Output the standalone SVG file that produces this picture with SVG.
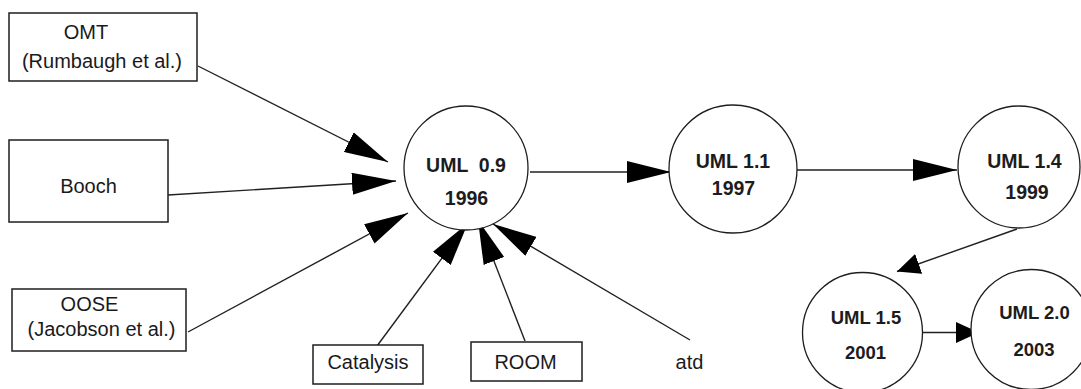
<svg xmlns="http://www.w3.org/2000/svg" width="1081" height="389" viewBox="0 0 1081 389">
  <style>
    .box { fill: #ffffff; stroke: #1e1e1e; stroke-width: 1.5; }
    .ver { fill: #ffffff; stroke: #1e1e1e; stroke-width: 1.3; }
    .lbl { font-family: "Liberation Sans", Arial, sans-serif; font-size: 20px; fill: #1a1a1a; text-anchor: middle; white-space: pre; }
    .vlbl { font-family: "Liberation Sans", Arial, sans-serif; font-size: 19.5px; font-weight: bold; fill: #1c1c1c; text-anchor: middle; white-space: pre; }
    .vsm { font-size: 18.5px; }
    .edge { fill: none; stroke: #202020; stroke-width: 1.4; }
  </style>
  <defs>
    <marker id="headL" markerUnits="userSpaceOnUse" viewBox="0 0 44 22" markerWidth="44" markerHeight="22" refX="44" refY="11" orient="auto">
      <path d="M0,0 L44,11 L0,22 Z" fill="#000000"/>
    </marker>
    <marker id="headS" markerUnits="userSpaceOnUse" viewBox="0 0 23 21" markerWidth="23" markerHeight="21" refX="23" refY="10.5" orient="auto">
      <path d="M0,0 L23,10.5 L0,21 Z" fill="#000000"/>
    </marker>
  </defs>

  <rect width="1081" height="389" fill="#ffffff"/>

  <!-- connectors -->
  <g id="connectors">
    <line class="edge" x1="198" y1="66" x2="388" y2="162" marker-end="url(#headL)"/>
    <line class="edge" x1="168" y1="195" x2="396" y2="181" marker-end="url(#headL)"/>
    <line class="edge" x1="188" y1="332" x2="408" y2="213" marker-end="url(#headL)"/>
    <line class="edge" x1="377" y1="346" x2="468" y2="223" marker-end="url(#headL)"/>
    <line class="edge" x1="525" y1="341" x2="478" y2="220" marker-end="url(#headL)"/>
    <line class="edge" x1="690" y1="340" x2="493" y2="224" marker-end="url(#headL)"/>
    <line class="edge" x1="530" y1="172" x2="671" y2="172" marker-end="url(#headL)"/>
    <line class="edge" x1="797" y1="170" x2="957" y2="170" marker-end="url(#headL)"/>
    <line class="edge" x1="1017" y1="229" x2="897" y2="271.5" marker-end="url(#headS)"/>
    <line class="edge" x1="922" y1="332.5" x2="979" y2="332.5" marker-end="url(#headS)"/>
  </g>

  <!-- source methods -->
  <g id="omt">
    <rect class="box" x="9" y="13" width="188" height="68"/>
    <text class="lbl" x="86" y="39">OMT</text>
    <text class="lbl" x="102" y="67.5">(Rumbaugh et al.)</text>
  </g>
  <g id="booch">
    <rect class="box" x="9" y="140" width="159" height="82"/>
    <text class="lbl" x="88.5" y="193">Booch</text>
  </g>
  <g id="oose">
    <rect class="box" x="12" y="289" width="174" height="62"/>
    <text class="lbl" x="89.5" y="310.5">OOSE</text>
    <text class="lbl" x="101.5" y="336">(Jacobson et al.)</text>
  </g>
  <g id="catalysis">
    <rect class="box" x="313" y="345" width="110" height="39"/>
    <text class="lbl" x="368" y="369">Catalysis</text>
  </g>
  <g id="room">
    <rect class="box" x="471" y="342" width="111" height="39"/>
    <text class="lbl" x="525.5" y="369">ROOM</text>
  </g>
  <g id="atd">
    <text class="lbl" x="689.5" y="368.5">atd</text>
  </g>

  <!-- UML versions -->
  <g id="uml09">
    <circle class="ver" cx="466" cy="168" r="62"/>
    <text class="vlbl" x="466" y="171.5">UML  0.9</text>
    <text class="vlbl" x="466.5" y="205">1996</text>
  </g>
  <g id="uml11">
    <circle class="ver" cx="733" cy="169" r="64"/>
    <text class="vlbl" x="733" y="168">UML 1.1</text>
    <text class="vlbl" x="733.5" y="195">1997</text>
  </g>
  <g id="uml14">
    <circle class="ver" cx="1019" cy="167" r="61"/>
    <text class="vlbl" x="1024.5" y="168">UML 1.4</text>
    <text class="vlbl" x="1027" y="199">1999</text>
  </g>
  <g id="uml15">
    <circle class="ver" cx="862.5" cy="332.5" r="60"/>
    <text class="vlbl vsm" x="866" y="324">UML 1.5</text>
    <text class="vlbl vsm" x="865.5" y="359">2001</text>
  </g>
  <g id="uml20">
    <circle class="ver" cx="1031" cy="329.5" r="60"/>
    <text class="vlbl vsm" x="1034.5" y="319">UML 2.0</text>
    <text class="vlbl vsm" x="1034" y="356">2003</text>
  </g>
</svg>
